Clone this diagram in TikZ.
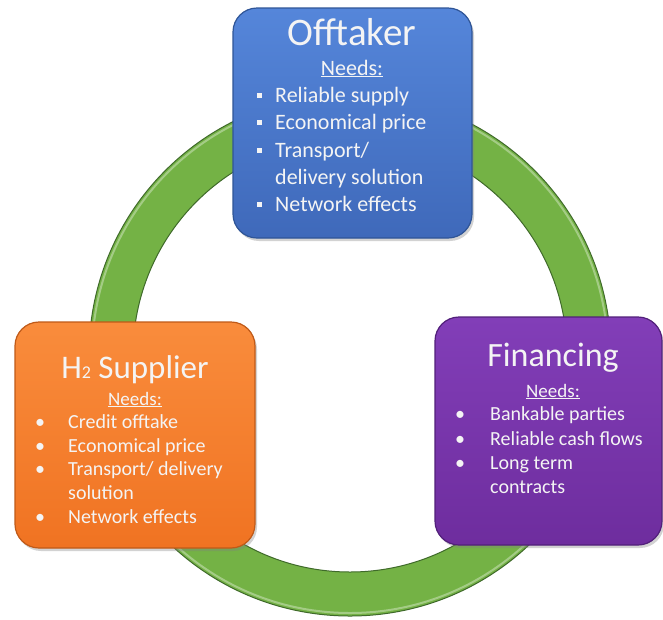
\documentclass[tikz,border=0pt]{standalone}
\usepackage{fontspec}
\setmainfont{Carlito}
\usetikzlibrary{shadows}
\definecolor{ringgreen}{HTML}{74B245}
\definecolor{ringdark}{HTML}{3F6A2A}
\definecolor{blueT}{HTML}{5586DA}
\definecolor{blueB}{HTML}{3F69BA}
\definecolor{blueD}{HTML}{2F5597}
\definecolor{orT}{HTML}{F98C3C}
\definecolor{orB}{HTML}{F07322}
\definecolor{orD}{HTML}{C05A18}
\definecolor{puT}{HTML}{823EB8}
\definecolor{puB}{HTML}{6E2D9E}
\definecolor{puD}{HTML}{52207A}
\definecolor{txt}{HTML}{F4F4F4}
\tikzset{
  card/.style={rounded corners=24pt, line width=1.2pt, inner sep=0pt,
    drop shadow={opacity=0.35, shadow xshift=2pt, shadow yshift=-3pt}},
  ttl/.style={text=txt, anchor=base, inner sep=0pt},
  nds/.style={text=txt, anchor=base, inner sep=0pt},
  itm/.style={text=txt, anchor=base west, inner sep=0pt},
  sqb/.style={fill=txt, minimum size=5pt, inner sep=0pt},
  rdb/.style={text=txt, anchor=base, inner sep=0pt},
}
\begin{document}
\begin{tikzpicture}[x=1pt,y=-1pt]
\useasboundingbox (0,0) rectangle (663,619);
\fill[white] (0,0) rectangle (663,619);
% ring
\node[coordinate] (c) at (350,355) {};
\draw[ringgreen, line width=44pt] (c) circle[radius=239];
\draw[ringdark, line width=1pt] (c) circle[radius=261];
\draw[ringdark, line width=1pt] (c) circle[radius=217];
\draw[white, opacity=0.35, line width=2pt] (c) circle[radius=258];
% Offtaker
\node[card, draw=blueD, top color=blueT, bottom color=blueB,
  minimum width=239pt, minimum height=230pt] (off) at (352.5,123) {};
\node[ttl, font=\fontsize{39}{42}\selectfont] (offt) at (352,45) {Offtaker};
\node[nds, font=\fontsize{22}{25}\selectfont] (offn) at (352,75) {\underline{Needs:}};
\foreach \i/\y/\t in {1/102/{Reliable supply}, 2/129/{Economical price}, 3/157/{Transport/}, 4/184/{delivery solution}, 5/211/{Network effects}}{
  \node[itm, font=\fontsize{22}{25}\selectfont] (offi\i) at (275,\y) {\t};
}
\foreach \i/\y in {1/95, 2/122, 3/150, 5/204}{
  \node[sqb] (offb\i) at (259,\y) {};
}
% H2 Supplier
\node[card, draw=orD, top color=orT, bottom color=orB,
  minimum width=240pt, minimum height=226pt] (sup) at (135,435) {};
\node[ttl, font=\fontsize{33}{36}\selectfont] (supt) at (135,378) {H{\fontsize{18}{20}\selectfont 2} Supplier};
\node[nds, font=\fontsize{19}{22}\selectfont] (supn) at (135,405) {\underline{Needs:}};
\foreach \i/\y/\t in {1/428/{Credit offtake}, 2/452/{Economical price}, 3/475/{Transport/ delivery}, 4/499/{solution}, 5/523/{Network effects}}{
  \node[itm, font=\fontsize{20}{23}\selectfont] (supi\i) at (68,\y) {\t};
}
\foreach \i/\y in {1/428, 2/452, 3/475, 5/523}{
  \node[rdb, font=\fontsize{20}{23}\selectfont] (supb\i) at (40,\y) {•};
}
% Financing
\node[card, draw=puD, top color=puT, bottom color=puB,
  minimum width=227pt, minimum height=228pt] (fin) at (548.5,431) {};
\node[ttl, font=\fontsize{34}{37}\selectfont] (fint) at (553,366) {Financing};
\node[nds, font=\fontsize{19}{22}\selectfont] (finn) at (553,397) {\underline{Needs:}};
\foreach \i/\y/\t in {1/420/{Bankable parties}, 2/445/{Reliable cash flows}, 3/469/{Long term}, 4/493/{contracts}}{
  \node[itm, font=\fontsize{20}{23}\selectfont] (fini\i) at (490,\y) {\t};
}
\foreach \i/\y in {1/420, 2/445, 3/469}{
  \node[rdb, font=\fontsize{20}{23}\selectfont] (finb\i) at (460,\y) {•};
}
\end{tikzpicture}
\end{document}
